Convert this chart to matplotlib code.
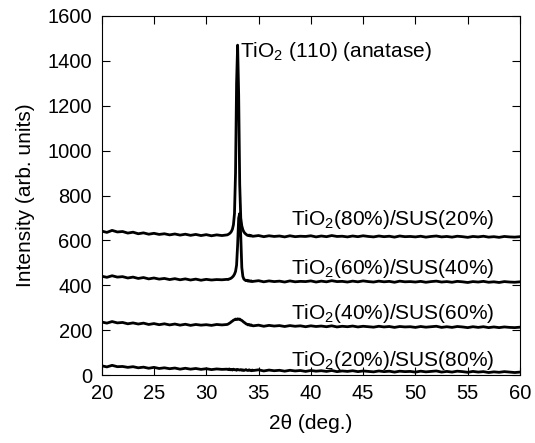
import numpy as np
import matplotlib.pyplot as plt

plt.rcParams['font.family'] = ['Liberation Sans', 'DejaVu Sans']
plt.rcParams['mathtext.fontset'] = 'custom'
plt.rcParams['mathtext.rm'] = 'Liberation Sans'
plt.rcParams['mathtext.it'] = 'Liberation Sans:italic'

# 2theta grid: coarse, fine around the (110) peak, coarse
theta = np.concatenate([np.arange(20, 32, 0.5),
                        np.round(np.arange(32.0, 34.45, 0.1), 1),
                        np.arange(34.5, 60.01, 0.5)])

# TiO2(80%)/SUS(20%)
s80 = [642, 636, 645, 638, 640, 633, 637, 630, 634, 628, 632, 627, 630, 625, 629, 624, 628, 623, 627, 622, 626, 621, 625, 622,
       625, 627, 630, 634, 640, 650, 670, 720, 900, 1300, 1470, 1250, 850, 700, 665, 648, 638, 632, 628, 624, 622, 624, 620, 622, 619,
       619, 622, 617, 621, 618, 620, 616, 621, 617, 619, 618, 621, 616, 620, 617, 622, 618, 619, 616, 620,
       617, 621, 618, 616, 620, 617, 619, 615, 620, 617, 618, 616, 619, 615, 618, 620, 616, 618, 615, 619,
       617, 614, 618, 616, 619, 615, 617, 614, 618, 616, 615, 617]
# TiO2(60%)/SUS(40%)
s60 = [441, 436, 443, 437, 439, 433, 437, 431, 435, 429, 433, 428, 431, 426, 430, 425, 429, 424, 428, 423, 427, 424, 426, 425,
       427, 426, 429, 430, 433, 437, 442, 450, 462, 490, 580, 700, 720, 620, 480, 440, 428, 424, 421, 423, 419, 421, 418, 420, 417,
       418, 421, 416, 420, 417, 419, 415, 420, 416, 418, 417, 420, 415, 419, 416, 421, 417, 418, 415, 419,
       416, 420, 417, 415, 419, 416, 418, 414, 419, 416, 417, 415, 418, 414, 417, 419, 415, 417, 414, 418,
       416, 413, 417, 415, 418, 414, 416, 413, 417, 415, 414, 416]
# TiO2(40%)/SUS(60%)
s40 = [237, 232, 239, 233, 235, 229, 233, 228, 232, 226, 230, 225, 229, 224, 228, 223, 227, 222, 226, 223, 225, 222, 226, 224,
       226, 228, 231, 234, 238, 241, 245, 247, 250, 248, 251, 249, 250, 246, 244, 240, 236, 233, 229, 227, 224, 226, 222, 224, 221,
       220, 223, 218, 222, 219, 221, 217, 221, 218, 220, 216, 220, 217, 219, 216, 220, 215, 218, 216, 219,
       215, 218, 216, 214, 218, 215, 217, 213, 217, 215, 216, 213, 217, 214, 216, 218, 213, 216, 213, 217,
       215, 212, 216, 213, 216, 212, 215, 212, 215, 213, 212, 214]
# TiO2(20%)/SUS(80%)
s20 = [42, 37, 44, 38, 39, 35, 38, 33, 36, 31, 35, 30, 33, 29, 32, 27, 31, 27, 30, 26, 29, 25, 28, 26,
       27, 25, 28, 24, 26, 23, 27, 24, 25, 22, 26, 24, 23, 25, 22, 24, 21, 23, 25, 22, 21, 24, 22, 20, 23,
       21, 24, 19, 23, 20, 22, 18, 22, 19, 21, 17, 21, 18, 20, 17, 21, 16, 19, 17, 20,
       16, 19, 17, 15, 19, 16, 18, 14, 18, 16, 17, 14, 18, 15, 17, 19, 14, 17, 14, 18,
       16, 13, 17, 14, 16, 12, 15, 13, 16, 14, 12, 14]

labels = [r'TiO$_2$(80%)/SUS(20%)', r'TiO$_2$(60%)/SUS(40%)',
          r'TiO$_2$(40%)/SUS(60%)', r'TiO$_2$(20%)/SUS(80%)']
label_y = [671, 453, 249, 41]

fig = plt.figure(figsize=(5.35, 4.43), dpi=100)
ax = fig.add_axes([0.19, 0.153, 0.782, 0.811])

for s in [s80, s60, s40, s20]:
    ax.plot(theta, s, color='black', lw=2.0)

for lab, yy in zip(labels, label_y):
    ax.text(57.5, yy, lab, ha='right', va='baseline', fontsize=15)

ax.text(33.2, 1418, r'TiO$_2$ (110) (anatase)', ha='left', va='baseline', fontsize=15)

ax.set_xlim(20, 60)
ax.set_ylim(0, 1600)
ax.set_xticks(np.arange(20, 61, 5))
ax.set_yticks(np.arange(0, 1601, 200))
ax.tick_params(direction='in', top=True, right=True, labelsize=14.5, length=6)
ax.tick_params(axis='y', pad=7)
ax.tick_params(axis='x', pad=6)
ax.set_xlabel('2θ (deg.)', fontsize=15, labelpad=8)
ax.set_ylabel('Intensity (arb. units)', fontsize=15, labelpad=9)

fig.savefig('out.png', dpi=100)
